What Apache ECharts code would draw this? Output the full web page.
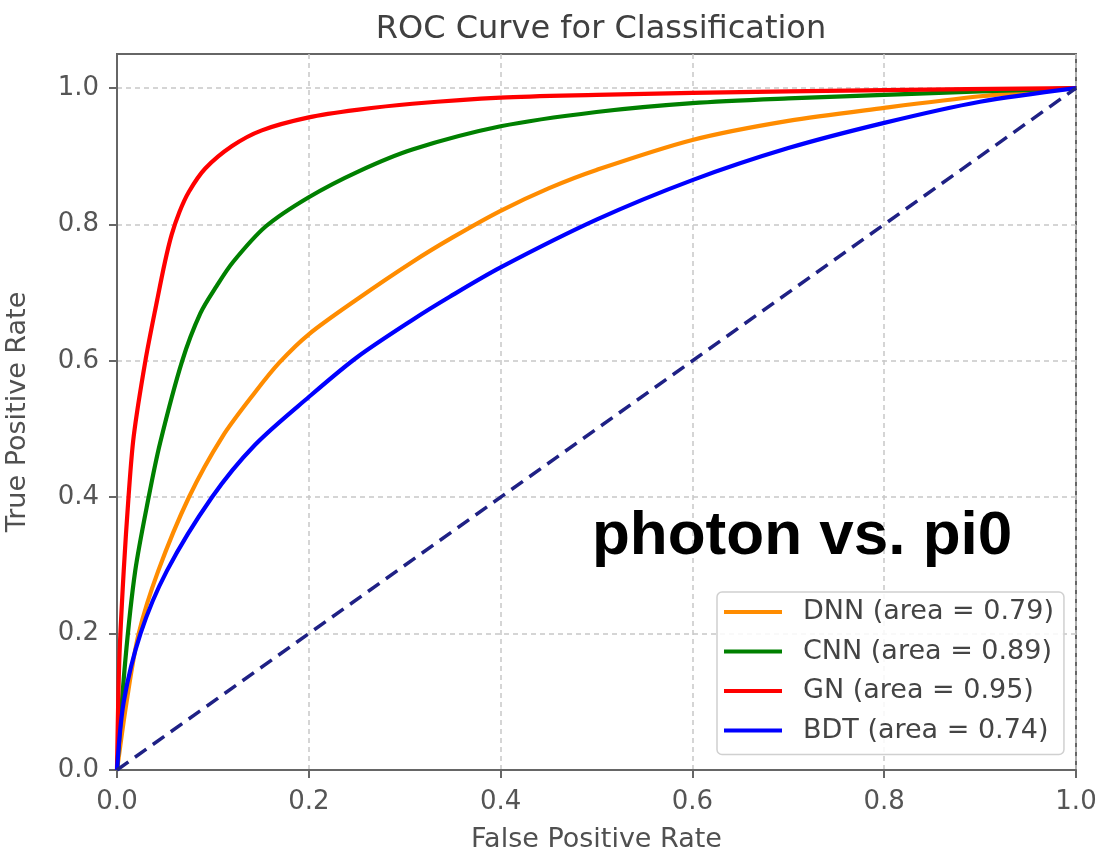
<!DOCTYPE html>
<html>
<head>
<meta charset="utf-8">
<script src="https://cdn.jsdelivr.net/npm/echarts@6/dist/echarts.min.js"></script>
<style>html,body{margin:0;padding:0;background:#fff;}#c{width:1102px;height:850px;}</style>
</head>
<body>
<div id="c"></div>
<script>
const seriesNames = ['DNN (area = 0.79)', 'CNN (area = 0.89)', 'GN (area = 0.95)', 'BDT (area = 0.74)'];
const seriesColors = ['#ff8c00', '#008000', '#ff0000', '#0000ff'];

const dnnFpr = [0, 0.010, 0.0226, 0.043, 0.075, 0.110, 0.144, 0.169, 0.2, 0.25, 0.308, 0.35, 0.4, 0.45, 0.5, 0.6, 0.7, 0.8, 0.9, 1.0];
const dnnTpr = [0, 0.10, 0.20, 0.292, 0.40, 0.489, 0.554, 0.597, 0.639, 0.69, 0.745, 0.781, 0.82, 0.853, 0.88, 0.924, 0.952, 0.971, 0.988, 1.0];

const cnnFpr = [0, 0.0087, 0.019, 0.033, 0.045, 0.068, 0.087, 0.104, 0.121, 0.155, 0.2, 0.252, 0.308, 0.4, 0.5, 0.6, 0.7, 0.8, 0.9, 1.0];
const cnnTpr = [0, 0.161, 0.292, 0.40, 0.48, 0.60, 0.67, 0.71, 0.745, 0.797, 0.84, 0.878, 0.91, 0.944, 0.965, 0.978, 0.985, 0.99, 0.995, 1.0];

const gnFpr = [0, 0.0024, 0.007, 0.012, 0.0174, 0.0296, 0.042, 0.050, 0.057, 0.065, 0.075, 0.092, 0.12, 0.151, 0.2, 0.25, 0.308, 0.4, 0.5, 0.6, 0.8, 1.0];
const gnTpr = [0, 0.161, 0.292, 0.40, 0.489, 0.60, 0.69, 0.745, 0.785, 0.818, 0.848, 0.882, 0.915, 0.938, 0.957, 0.968, 0.977, 0.986, 0.99, 0.993, 0.997, 1.0];

const bdtFpr = [0, 0.007, 0.0245, 0.052, 0.099, 0.144, 0.2, 0.25, 0.308, 0.347, 0.4, 0.5, 0.6, 0.7, 0.8, 0.9, 1.0];
const bdtTpr = [0, 0.10, 0.20, 0.292, 0.40, 0.477, 0.547, 0.605, 0.66, 0.694, 0.737, 0.807, 0.865, 0.912, 0.949, 0.98, 1.0];

const chanceFpr = [0, 1];
const chanceTpr = [0, 1];

const xTicks = [0, 0.2, 0.4, 0.6, 0.8, 1.0];
const yTicks = [0, 0.2, 0.4, 0.6, 0.8, 1.0];

function pairs(xs, ys) { return xs.map((x, i) => [x, ys[i]]); }

const curveData = [pairs(dnnFpr, dnnTpr), pairs(cnnFpr, cnnTpr), pairs(gnFpr, gnTpr), pairs(bdtFpr, bdtTpr)];

const chart = echarts.init(document.getElementById('c'), null, {renderer: 'canvas'});

const font = 'DejaVu Sans';
const series = curveData.map((d, i) => ({
  name: seriesNames[i],
  type: 'line',
  data: d,
  showSymbol: false,
  smooth: 0.3,
  lineStyle: {color: seriesColors[i], width: 4.2},
  itemStyle: {color: seriesColors[i]},
  z: 3 + i,
  silent: true
}));
series.push({
  name: 'chance',
  type: 'line',
  data: pairs(chanceFpr, chanceTpr),
  showSymbol: false,
  lineStyle: {color: '#1f2185', width: 3.5, type: [14, 8]},
  z: 8,
  silent: true
});

chart.setOption({
  animation: false,
  backgroundColor: '#ffffff',
  title: {
    text: 'ROC Curve for Classification',
    left: 596, top: 9, textAlign: 'center',
    textStyle: {fontFamily: font, fontSize: 32, fontWeight: 'normal', color: '#404040'}
  },
  grid: {left: 117, right: 26, top: 54, bottom: 80, containLabel: false, outerBoundsMode: 'none',
         show: true, borderColor: '#666', borderWidth: 2, backgroundColor: 'transparent'},
  legend: {
    data: seriesNames,
    orient: 'vertical',
    left: 717, top: 592,
    padding: [5, 10, 9, 7],
    itemGap: 9.5,
    itemWidth: 58, itemHeight: 4,
    icon: 'rect',
    backgroundColor: 'rgba(255,255,255,0.85)',
    borderColor: '#d0d0d0', borderWidth: 1.5, borderRadius: 5,
    textStyle: {fontFamily: font, fontSize: 27, color: '#444', lineHeight: 30, padding: [0, 0, 0, 16]}
  },
  xAxis: {
    type: 'value', min: 0, max: 1, interval: 0.2,
    name: 'False Positive Rate', nameLocation: 'middle', nameGap: 56,
    nameTextStyle: {fontFamily: font, fontSize: 27, color: '#505050'},
    axisLine: {show: true, onZero: false, lineStyle: {color: '#666', width: 2}},
    axisTick: {show: true, length: 8, lineStyle: {color: '#666', width: 2}, customValues: xTicks},
    axisLabel: {fontFamily: font, fontSize: 26, color: '#555', margin: 19, formatter: v => v.toFixed(1), customValues: xTicks},
    splitLine: {show: true, lineStyle: {color: '#c8c8c8', width: 1.5, type: [5, 4]}}
  },
  yAxis: {
    type: 'value', min: 0, max: 1.05, interval: 0.2,
    name: 'True Positive Rate', nameLocation: 'middle', nameGap: 86,
    nameTextStyle: {fontFamily: font, fontSize: 27, color: '#505050'},
    axisLine: {show: true, onZero: false, lineStyle: {color: '#666', width: 2}},
    axisTick: {show: true, length: 8, lineStyle: {color: '#666', width: 2}, customValues: yTicks},
    axisLabel: {fontFamily: font, fontSize: 26, color: '#555', margin: 18, formatter: v => v.toFixed(1), customValues: yTicks},
    splitLine: {show: true, lineStyle: {color: '#c8c8c8', width: 1.5, type: [5, 4]}}
  },
  graphic: [{
    type: 'text',
    left: 592, top: 506,
    z: 100,
    style: {text: 'photon vs. pi0', fontFamily: 'Liberation Sans', fontWeight: 'bold', fontSize: 62, fill: '#000'}
  }],
  series: series
});
</script>
</body>
</html>
